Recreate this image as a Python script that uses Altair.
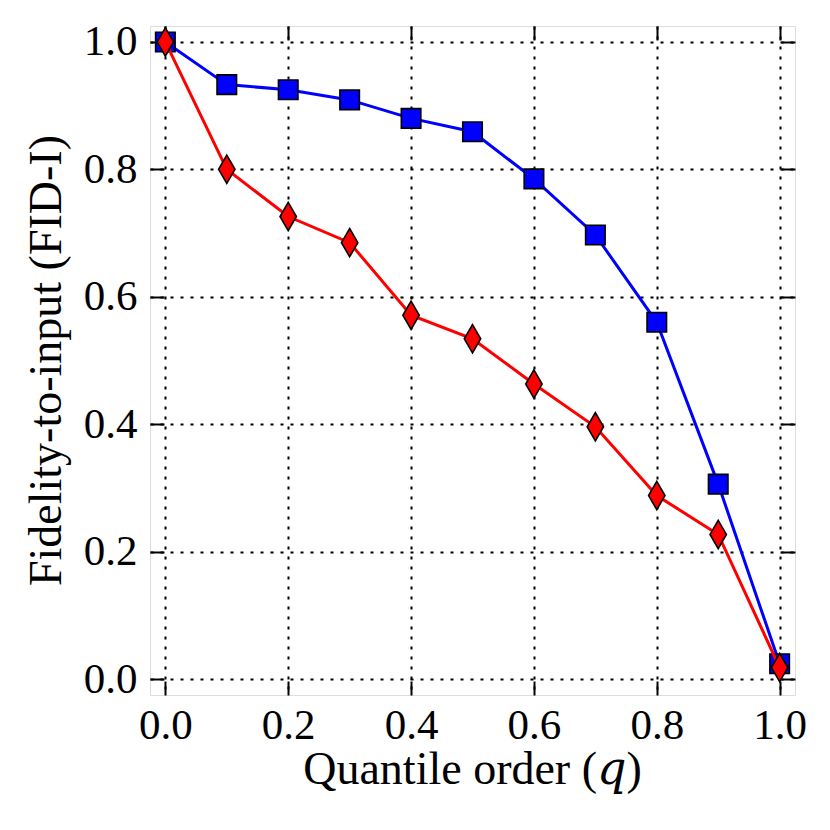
import altair as alt
import pandas as pd

q = [0.0, 0.1, 0.2, 0.3, 0.4, 0.5, 0.6, 0.7, 0.8, 0.9, 1.0]
blue_vals = [1.0, 0.933, 0.925, 0.909, 0.880, 0.859, 0.785, 0.697, 0.560, 0.306, 0.024]
red_vals = [1.0, 0.800, 0.726, 0.685, 0.571, 0.534, 0.463, 0.396, 0.288, 0.227, 0.018]
ticks = [0.0, 0.2, 0.4, 0.6, 0.8, 1.0]

blue_df = pd.DataFrame({"q": q, "v": blue_vals})
red_df = pd.DataFrame({"q": q, "v": red_vals})

FONT = "Liberation Serif"
TFONT = "Liberation Serif, DejaVu Serif, serif"
dom = [-0.025, 1.025]
xs = alt.Scale(domain=dom, nice=False, zero=False)
ys = alt.Scale(domain=dom, nice=False, zero=False)

common_axis = dict(
    values=ticks, format=".1f", domain=False, offset=-14, tickSize=14,
    tickColor="black", tickWidth=2, gridColor="black", gridDash=[3, 7],
    gridWidth=2, gridOpacity=1, labelFont=FONT, labelFontSize=43,
    labelColor="black", titleFont=TFONT, titleFontSize=46, titleColor="black",
    titleFontWeight="normal",
)

x_bottom = alt.X("q:Q", scale=xs, axis=alt.Axis(
    orient="bottom", title="Quantile order (𝑞)", grid=True,
    labelPadding=43, labelBaseline="alphabetic", labelFlush=False,
    titleX=322, titleY=102, titleBaseline="alphabetic", titleAnchor="middle",
    titleAlign="center", **common_axis))
y_left = alt.Y("v:Q", scale=ys, axis=alt.Axis(
    orient="left", title="Fidelity-to-input (FID-I)", grid=True,
    labelPadding=13, labelBaseline="middle", labelFlush=False,
    titleX=-118, titleY=334, titleAngle=270, titleBaseline="middle",
    titleAlign="center", **common_axis))

x_top = alt.X("q:Q", scale=xs, axis=alt.Axis(
    orient="top", title=None, grid=False, labels=False, values=ticks,
    domain=False, offset=-14, tickSize=14, tickColor="black", tickWidth=2))
y_right = alt.Y("v:Q", scale=ys, axis=alt.Axis(
    orient="right", title=None, grid=False, labels=False, values=ticks,
    domain=False, offset=-14, tickSize=14, tickColor="black", tickWidth=2))

blue_line = alt.Chart(blue_df).mark_line(color="#0000ff", strokeWidth=3).encode(
    x=x_bottom, y=y_left)
blue_pts = alt.Chart(blue_df).mark_point(
    shape="square", size=380, filled=True, fill="#0000ff", stroke="black",
    strokeWidth=1.6, opacity=1).encode(
    x=alt.X("q:Q", scale=xs, axis=None), y=alt.Y("v:Q", scale=ys, axis=None))
red_line = alt.Chart(red_df).mark_line(color="#ff0000", strokeWidth=3).encode(
    x=x_top, y=y_right)
red_pts = alt.Chart(red_df).mark_point(
    shape="M0,-1L0.58,0L0,1L-0.58,0Z", size=800, filled=True, fill="#ff0000",
    stroke="black", strokeWidth=1.6, opacity=1).encode(
    x=alt.X("q:Q", scale=xs, axis=None), y=alt.Y("v:Q", scale=ys, axis=None))

chart = alt.layer(blue_line, blue_pts, red_line, red_pts).resolve_axis(
    x="independent", y="independent"
).properties(
    width=645, height=669,
    autosize=alt.AutoSizeParams(type="none"),
    padding={"left": 142, "top": 18, "right": 20, "bottom": 100},
).configure_view(stroke="black", strokeWidth=3, fill="white").configure(
    background="white")

chart.save("out.html", embed_options={"renderer": "svg", "actions": False})
